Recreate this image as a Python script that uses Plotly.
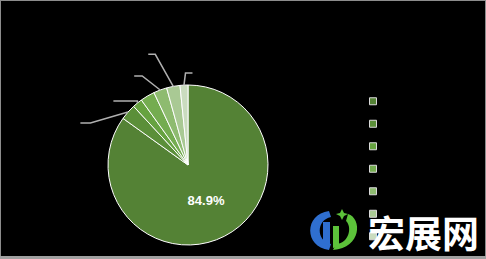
import math
import plotly.graph_objects as go

# ---- data ----
categories = ["A", "B", "C", "D", "E", "F", "G"]
values = [84.9, 3.2, 2.0, 2.9, 2.7, 2.7, 1.6]
colors = ["#548235", "#5B8F39", "#66A240", "#74AC50", "#8EBB70", "#A9C994", "#CADCBF"]

# ---- layout constants ----
W, H = 486, 259
PIE_X0, PIE_X1 = 108, 268   # px
PIE_Y0, PIE_Y1 = 85, 245    # px (top, bottom)

def px(x):
    return x / W

def py(y):
    return 1 - y / H

# leader-line styles per slice: (elbow dx, elbow dy, stub length) in px; None = no leader
leader_style = [None, (-37.6, 10.8, -10), (0, -2, -24), None, (-18, -14, -8), (-18, -32, -7), (1.5, -12, 7)]

texts = ["<b>%{percent:.1%}</b>"] + [""] * (len(values) - 1)

fig = go.Figure()
fig.add_trace(go.Pie(
    labels=categories,
    values=values,
    sort=False,
    direction="clockwise",
    rotation=0,
    marker=dict(colors=colors, line=dict(color="#FFFFFF", width=1)),
    texttemplate=texts,
    textposition="inside",
    insidetextorientation="horizontal",
    textfont=dict(color="#FFFFFF", size=13, family="Liberation Sans"),
    domain=dict(x=[px(PIE_X0), px(PIE_X1)], y=[py(PIE_Y1), py(PIE_Y0)]),
    showlegend=False,
    hoverinfo="skip",
))

# legend entries (small squares)
for cat, col in zip(categories, colors):
    fig.add_trace(go.Scatter(
        x=[None], y=[None], mode="markers", name=cat,
        marker=dict(symbol="square", size=7, color=col, line=dict(color="#D9D9D9", width=1)),
        showlegend=True, hoverinfo="skip",
    ))

# leader lines computed from slice angles
cx = (PIE_X0 + PIE_X1) / 2
cy = (PIE_Y0 + PIE_Y1) / 2
r = (PIE_X1 - PIE_X0) / 2
total = sum(values)
shapes = []
cum = 0.0
for v, st in zip(values, leader_style):
    mid = (cum + v / 2) / total * 2 * math.pi
    cum += v
    if st is None:
        continue
    ex = cx + r * math.sin(mid)
    ey = cy - r * math.cos(mid)
    bx, by = ex + st[0], ey + st[1]
    tx = bx + st[2]
    shapes.append(dict(
        type="path", xref="paper", yref="paper",
        path=f"M {px(ex)},{py(ey)} L {px(bx)},{py(by)} L {px(tx)},{py(by)}",
        line=dict(color="#B0B0B0", width=1.5),
    ))

# frame
shapes.append(dict(type="rect", xref="paper", yref="paper", x0=0, x1=1, y0=0, y1=1,
                   line=dict(color="#8C8C8C", width=2), fillcolor="rgba(0,0,0,0)"))
shapes.append(dict(type="rect", xref="paper", yref="paper", x0=0, x1=1, y0=0, y1=3 / H,
                   line=dict(width=0), fillcolor="#A0A0A0"))

# watermark logo (decorative)
shapes.append(dict(type="path", xref="paper", yref="paper",
                   path=f"M {px(329)},{py(211)} C {px(304)},{py(214)} {px(304)},{py(247)} {px(329)},{py(250)} "
                        f"L {px(331)},{py(244)} C {px(316)},{py(241)} {px(316)},{py(220)} {px(331)},{py(217)} Z",
                   fillcolor="#2F6FD0", line=dict(width=0)))
shapes.append(dict(type="path", xref="paper", yref="paper",
                   path=f"M {px(323)},{py(222)} L {px(330)},{py(222)} L {px(330)},{py(245)} L {px(323)},{py(243)} Z",
                   fillcolor="#2F6FD0", line=dict(width=0)))
shapes.append(dict(type="path", xref="paper", yref="paper",
                   path=f"M {px(333)},{py(250)} C {px(362)},{py(248)} {px(362)},{py(218)} {px(348)},{py(214)} "
                        f"L {px(346)},{py(221)} C {px(352)},{py(226)} {px(350)},{py(243)} {px(336)},{py(244)} Z",
                   fillcolor="#5CC23A", line=dict(width=0)))
shapes.append(dict(type="path", xref="paper", yref="paper",
                   path=f"M {px(333)},{py(226)} L {px(339)},{py(226)} L {px(339)},{py(246)} L {px(333)},{py(248)} Z",
                   fillcolor="#5CC23A", line=dict(width=0)))
shapes.append(dict(type="path", xref="paper", yref="paper",
                   path=f"M {px(342)},{py(209)} L {px(344)},{py(213)} L {px(348)},{py(214)} L {px(344)},{py(216)} "
                        f"L {px(342)},{py(220)} L {px(340)},{py(216)} L {px(336)},{py(214)} L {px(340)},{py(213)} Z",
                   fillcolor="#5CC23A", line=dict(width=0)))

fig.update_layout(
    width=W, height=H,
    margin=dict(l=0, r=0, t=0, b=0),
    paper_bgcolor="#000000",
    plot_bgcolor="#000000",
    xaxis=dict(visible=False),
    yaxis=dict(visible=False),
    showlegend=True,
    legend=dict(
        x=px(353), y=py(85), xanchor="left", yanchor="top",
        bgcolor="rgba(0,0,0,0)",
        font=dict(color="#000000", size=15, family="Liberation Sans"),
        itemclick=False, itemdoubleclick=False,
    ),
    shapes=shapes,
    annotations=[dict(
        text="<b>宏展网</b>", xref="paper", yref="paper", x=px(423), y=py(232),
        xanchor="center", yanchor="middle", showarrow=False,
        font=dict(color="#FFFFFF", size=37, family="Noto Sans CJK SC"),
    )],
)

fig.write_html("out.html")
